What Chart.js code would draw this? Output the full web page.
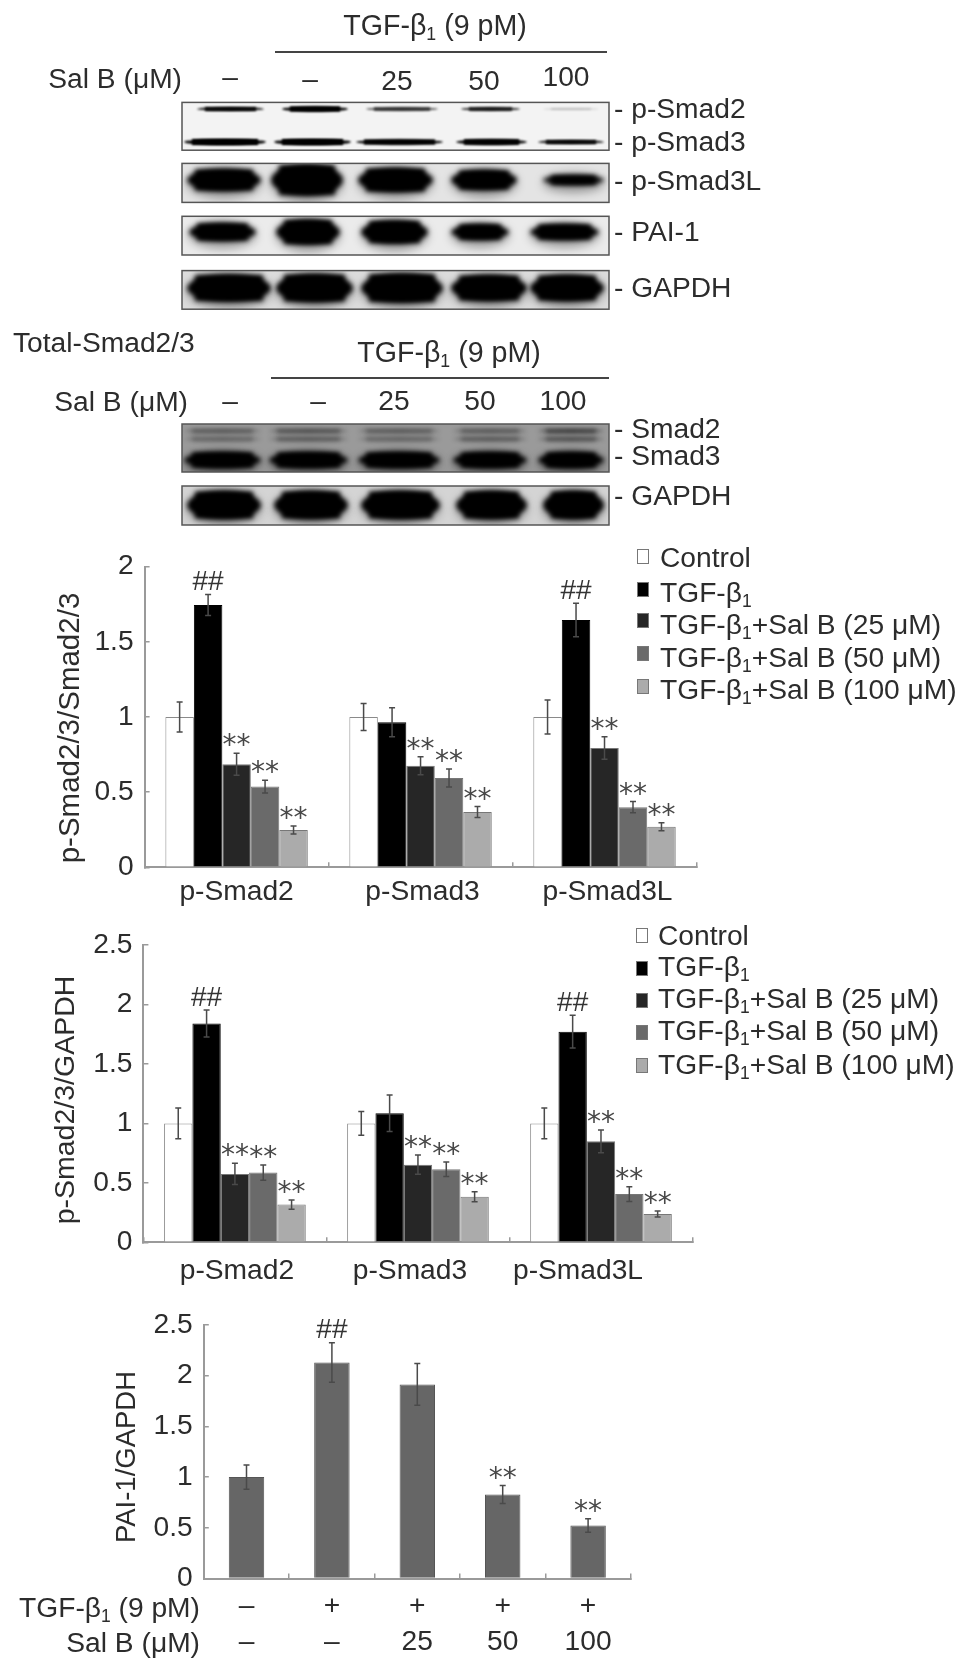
<!DOCTYPE html>
<html><head><meta charset="utf-8">
<script src="https://cdn.jsdelivr.net/npm/chart.js@4"></script>
<style>
html,body{margin:0;padding:0;background:#fff;overflow:hidden}
#fig{position:relative;width:969px;height:1670px;overflow:hidden;filter:blur(.6px);font-family:"Liberation Sans",Arial,sans-serif;color:#2c2c2c}
#fig canvas{position:absolute;left:0}
.t{position:absolute;white-space:nowrap;line-height:1;font-size:28.2px}
.t sub{font-size:62%;line-height:0;vertical-align:-0.3em}
.sw{position:absolute;width:12px;height:15px;box-sizing:border-box;border:1px solid #777}
.rule{position:absolute;height:2px;background:#444}
</style></head><body><div id="fig">
<canvas id="blots" width="969" height="540" style="top:0"></canvas>
<canvas id="c1" width="969" height="380" style="top:540px"></canvas>
<canvas id="c2" width="969" height="380" style="top:920px"></canvas>
<canvas id="c3" width="969" height="370" style="top:1300px"></canvas>
</div>
<script>
// ---------- data ----------
const groups = ['p-Smad2','p-Smad3','p-Smad3L'];
const seriesNames = ['Control','TGF-β1','TGF-β1+Sal B (25 μM)','TGF-β1+Sal B (50 μM)','TGF-β1+Sal B (100 μM)'];
const seriesFill = ['#ffffff','#000000','#262626','#6a6a6a','#ababab'];

const a_control = [1.00,1.00,1.00];
const a_tgf     = [1.745,0.965,1.645];
const a_sal25   = [0.685,0.676,0.794];
const a_sal50   = [0.537,0.594,0.400];
const a_sal100  = [0.248,0.368,0.270];
const a_err_control = [0.10,0.09,0.113];
const a_err_tgf     = [0.07,0.097,0.111];
const a_err_sal25   = [0.073,0.06,0.075];
const a_err_sal50   = [0.043,0.06,0.037];
const a_err_sal100  = [0.027,0.036,0.027];
const a_marks = [['','##','**','**','**'],['','','**','**','**'],['','##','**','**','**']];

const b_control = [1.00,1.00,1.00];
const b_tgf     = [1.84,1.085,1.771];
const b_sal25   = [0.575,0.653,0.849];
const b_sal50   = [0.586,0.614,0.406];
const b_sal100  = [0.317,0.384,0.238];
const b_err_control = [0.13,0.10,0.13];
const b_err_tgf     = [0.113,0.154,0.138];
const b_err_sal25   = [0.09,0.081,0.096];
const b_err_sal50   = [0.064,0.061,0.062];
const b_err_sal100  = [0.039,0.042,0.025];
const b_marks = [['','##','**','**','**'],['','','**','**','**'],['','##','**','**','**']];

const c_labels = [['–','–'],['+','–'],['+','25'],['+','50'],['+','100']];
const c_values = [1.00,2.13,1.914,0.828,0.523];
const c_errors = [0.12,0.195,0.206,0.089,0.066];
const c_marks  = [[''],['##'],[''],['**'],['**']];

const ticksA = [0,0.5,1,1.5,2];
const ticksB = [0,0.5,1,1.5,2,2.5];

// ---------- shared styling ----------
const AXIS = '#9a9a9a', TXT = '#2c2c2c', FONT = '"Liberation Sans",Arial,sans-serif';

const overlay = {
  id:'overlay',
  afterDatasetsDraw(ch, _a, o){
    const ctx = ch.ctx, x = ch.scales.x, y = ch.scales.y;
    ctx.save();
    ch.data.datasets.forEach((ds,di)=>{
      const meta = ch.getDatasetMeta(di), errs = o.errors[di];
      meta.data.forEach((bar,i)=>{
        const top = y.getPixelForValue(ds.data[i]+errs[i]), low = y.getPixelForValue(ds.data[i]-errs[i]);
        ctx.strokeStyle = '#4a4a4a'; ctx.lineWidth = 1.5;
        ctx.beginPath();
        ctx.moveTo(bar.x,top); ctx.lineTo(bar.x,low);
        ctx.moveTo(bar.x-3,top); ctx.lineTo(bar.x+3,top);
        ctx.moveTo(bar.x-3,low); ctx.lineTo(bar.x+3,low);
        ctx.stroke();
        const mark = o.marks[i][di];
        if(mark){
          const star = mark[0]==='*';
          ctx.font = star ? '28px "DejaVu Sans"' : '28px '+FONT;
          ctx.fillStyle = star ? '#484848' : '#333';
          ctx.textAlign = 'center'; ctx.textBaseline = 'alphabetic';
          const m = ctx.measureText(mark);
          const mid = top - (star ? 13 : 14);
          ctx.fillText(mark, bar.x, mid + (m.actualBoundingBoxAscent - m.actualBoundingBoxDescent)/2);
        }
      });
    });
    ctx.fillStyle = TXT;
    ctx.save();
    ctx.translate(o.title.x, o.title.y - ch.canvas.offsetTop);
    ctx.rotate(-Math.PI/2);
    ctx.font = o.title.size+'px '+FONT;
    ctx.textAlign='center'; ctx.textBaseline='middle';
    ctx.fillText(o.title.text,0,0);
    ctx.restore();
    if(o.xLabels){
      ctx.font = '28.2px '+FONT; ctx.textAlign='center'; ctx.textBaseline='alphabetic'; ctx.fillStyle=TXT;
      x.getLabels().forEach((t,i)=>ctx.fillText(t, x.getPixelForValue(i)+o.xLabels.shift[i], y.bottom+o.xLabels.drop));
    }
    ctx.restore();
  }
};

function makeChart(id, cfg){
  const cv = document.getElementById(id), W = cv.width, H = cv.height, top = cv.offsetTop;
  return new Chart(cv,{
    type:'bar',
    data:{labels:cfg.labels,datasets:cfg.datasets},
    plugins:[overlay],
    options:{
      responsive:false,animation:false,devicePixelRatio:1,
      layout:{padding:{top:cfg.top-top,right:W-cfg.right,left:0,bottom:0}},
      plugins:{legend:{display:false},tooltip:{enabled:false},title:{display:false},overlay:cfg.overlay},
      scales:{
        x:{
          afterFit:s=>{s.height = H-(cfg.bottom-top);},
          border:{color:AXIS,width:2},
          grid:{drawOnChartArea:false,drawTicks:true,tickLength:-5,color:AXIS,lineWidth:1.5},
          ticks:cfg.xTicks
        },
        y:{
          min:0,max:cfg.ticks[cfg.ticks.length-1],
          afterFit:s=>{s.width = cfg.left;},
          afterBuildTicks:s=>{s.ticks = cfg.ticks.map(v=>({value:v}));},
          border:{color:AXIS,width:2},
          grid:{drawOnChartArea:false,drawTicks:true,tickLength:-5,color:AXIS,lineWidth:1.5},
          // the small line height stops the label box from pushing the plot top down
          ticks:{callback:v=>String(v),padding:16,color:TXT,font:{family:FONT,size:28.2,lineHeight:0.6}}
        }
      }
    }
  });
}

function groupDatasets(lists){
  return lists.map((d,i)=>({label:seriesNames[i],data:d,backgroundColor:seriesFill[i],
    borderColor:i===0?'#8a8a8a':(i===1?'#000':'#777'),borderWidth:1,
    categoryPercentage:0.774,barPercentage:1}));
}

makeChart('c1',{
  labels:groups,datasets:groupDatasets([a_control,a_tgf,a_sal25,a_sal50,a_sal100]),
  ticks:ticksA,left:144.6,right:696.5,top:566.7,bottom:867.3,
  xTicks:{display:false},
  overlay:{errors:[a_err_control,a_err_tgf,a_err_sal25,a_err_sal50,a_err_sal100],marks:a_marks,
    title:{text:'p-Smad2/3/Smad2/3',x:71,y:728,size:29.5},
    xLabels:{shift:[0,2,3],drop:33}}
});
makeChart('c2',{
  labels:groups,datasets:groupDatasets([b_control,b_tgf,b_sal25,b_sal50,b_sal100]),
  ticks:ticksB,left:143.4,right:692.5,top:945,bottom:1242.3,
  xTicks:{display:false},
  overlay:{errors:[b_err_control,b_err_tgf,b_err_sal25,b_err_sal50,b_err_sal100],marks:b_marks,
    title:{text:'p-Smad2/3/GAPDH',x:66,y:1100,size:28.5},
    xLabels:{shift:[2,-8,-23],drop:37}}
});
makeChart('c3',{
  labels:c_labels,
  datasets:[{label:'PAI-1/GAPDH',data:c_values,backgroundColor:'#666666',borderColor:'#555',borderWidth:1,
    categoryPercentage:0.415,barPercentage:1}],
  ticks:ticksB,left:203.8,right:630.8,top:1325,bottom:1578.5,
  xTicks:{padding:14,color:TXT,maxRotation:0,autoSkip:false,font:{family:FONT,size:28.2,lineHeight:1.3}},
  overlay:{errors:[c_errors],marks:c_marks,
    title:{text:'PAI-1/GAPDH',x:127,y:1457,size:27.5}}
});

// ---------- text and legends ----------
const fig = document.getElementById('fig');
function text(x,y,html,align,size){
  const d = document.createElement('div'); d.className='t'; d.innerHTML = html;
  d.style.top = y+'px';
  d.style.left = x+'px';
  if(size) d.style.fontSize = size+'px';
  const tx = align==='c'?'-50%':(align==='r'?'-100%':'0');
  d.style.transform = 'translate('+tx+',-50%)';
  fig.appendChild(d);
}
function rule(x0,x1,y){
  const d=document.createElement('div');d.className='rule';
  d.style.left=x0+'px';d.style.width=(x1-x0)+'px';d.style.top=y+'px';fig.appendChild(d);
}
const TGF = 'TGF-β<sub>1</sub>', TGF9 = TGF+' (9 pM)', SAL = 'Sal B (μM)';
const doseLabels = ['–','–','25','50','100'];

text(435,25,TGF9,'c',28.6); rule(275,607,50.5);
text(182,78,SAL,'r');
[230,310,397,484,566].forEach((x,i)=>text(x,[76,78,80,80,76][i],doseLabels[i],'c'));
[['p-Smad2',108],['p-Smad3',141],['p-Smad3L',180],['PAI-1',231],['GAPDH',287]].forEach(r=>text(614,r[1],'- '+r[0],'l'));
text(13,342,'Total-Smad2/3','l');
text(449,352,TGF9,'c',28.6); rule(271,609,377);
text(188,401,SAL,'r');
[230,318,394,480,563].forEach((x,i)=>text(x,400,doseLabels[i],'c'));
[['Smad2',428],['Smad3',455],['GAPDH',495]].forEach(r=>text(614,r[1],'- '+r[0],'l'));
text(200,1607,TGF9,'r'); text(200,1642,SAL,'r');

function legend(swX,txtX,swY,txtY){
  seriesNames.forEach((n,i)=>{
    const s=document.createElement('div');s.className='sw';
    s.style.left=swX+'px';s.style.top=(swY[i]-7)+'px';s.style.background=seriesFill[i];fig.appendChild(s);
    text(txtX,txtY[i],n.replace('β1',"β<sub>1</sub>"),'l',28.2);
  });
}
legend(637,660,[556,589,620,653,686],[557,592,624,657,689]);
legend(636,658,[935,968,1000,1032,1065],[935,965.5,998,1030,1064]);

// ---------- western-blot panels (image texture, not chart data) ----------
const g = document.getElementById('blots').getContext('2d');
const PX0 = 182, PX1 = 609;
const laneSpans = {
  p1a:[[197,264],[282,348],[366,438],[461,520],[543,599]],
  p1b:[[184,266],[274,351],[356,443],[456,527],[538,604]],
  p2:[[187,261],[271,343],[358,433],[451,517],[543,604]],
  p3:[[189,256],[276,340],[361,428],[451,509],[530,599]],
  p4:[[187,271],[276,353],[361,443],[451,527],[530,604]],
  p5:[[184,261],[269,348],[358,440],[453,527],[538,604]],
  p6:[[187,261],[274,348],[361,440],[456,527],[543,604]]
};
function panel(y0,y1,bg,bands){
  g.save();
  g.beginPath(); g.rect(PX0,y0,PX1-PX0,y1-y0); g.clip();
  g.fillStyle=bg; g.fillRect(PX0,y0,PX1-PX0,y1-y0);
  bands.forEach(b=>{
    b.spans.forEach((sp,i)=>{
      const cx=(sp[0]+sp[1])/2, rx=(sp[1]-sp[0])/2, h=b.h[i];
      if(b.blur>=2.5){
        g.filter='blur(5px)';
        g.fillStyle='rgba(0,0,0,0.35)';
        g.beginPath(); g.ellipse(cx,b.y+3,rx,h/2+5,0,0,Math.PI*2); g.fill();
      }
      g.filter='blur('+b.blur+'px)';
      g.fillStyle='rgba(0,0,0,'+b.alpha[i]+')';
      g.beginPath(); g.ellipse(cx,b.y,rx,h/2,0,0,Math.PI*2); g.fill();
      g.fillRect(sp[0]+8,b.y-h/2,sp[1]-sp[0]-16,h);
    });
  });
  g.restore();
  g.save(); g.filter='none'; g.strokeStyle='#555'; g.lineWidth=1.5;
  g.strokeRect(PX0,y0,PX1-PX0,y1-y0); g.restore();
}
const five = v=>[v,v,v,v,v];
panel(102.4,150.2,'#f3f3f3',[
  {spans:laneSpans.p1a,y:109,h:[4,5,3.5,3.5,2],alpha:[.85,1,.6,.75,.12],blur:1},
  {spans:laneSpans.p1b,y:142,h:[6,6,5,5.5,4],alpha:[1,1,.95,.95,.85],blur:1}
]);
panel(163.4,202.4,'#e4e4e4',[{spans:laneSpans.p2,y:180,h:[21,30,23,19,9],alpha:five(1),blur:2.5}]);
panel(216.3,255,'#ebebeb',[{spans:laneSpans.p3,y:232,h:[17,24,22,15,15],alpha:five(1),blur:2.5}]);
panel(270.6,309.2,'#dcdcdc',[{spans:laneSpans.p4,y:288,h:[26,27,28,25,25],alpha:five(1),blur:2.5}]);
panel(424,472,'#9a9a9a',[
  {spans:laneSpans.p5,y:431,h:five(4),alpha:[.3,.35,.3,.3,.45],blur:2},
  {spans:laneSpans.p5,y:439,h:five(4),alpha:[.25,.3,.25,.3,.35],blur:2},
  {spans:laneSpans.p5,y:460,h:five(15),alpha:five(1),blur:2.5}
]);
panel(486,525,'#d4d4d4',[{spans:laneSpans.p6,y:505,h:five(27),alpha:five(1),blur:2.5}]);
</script></body></html>
